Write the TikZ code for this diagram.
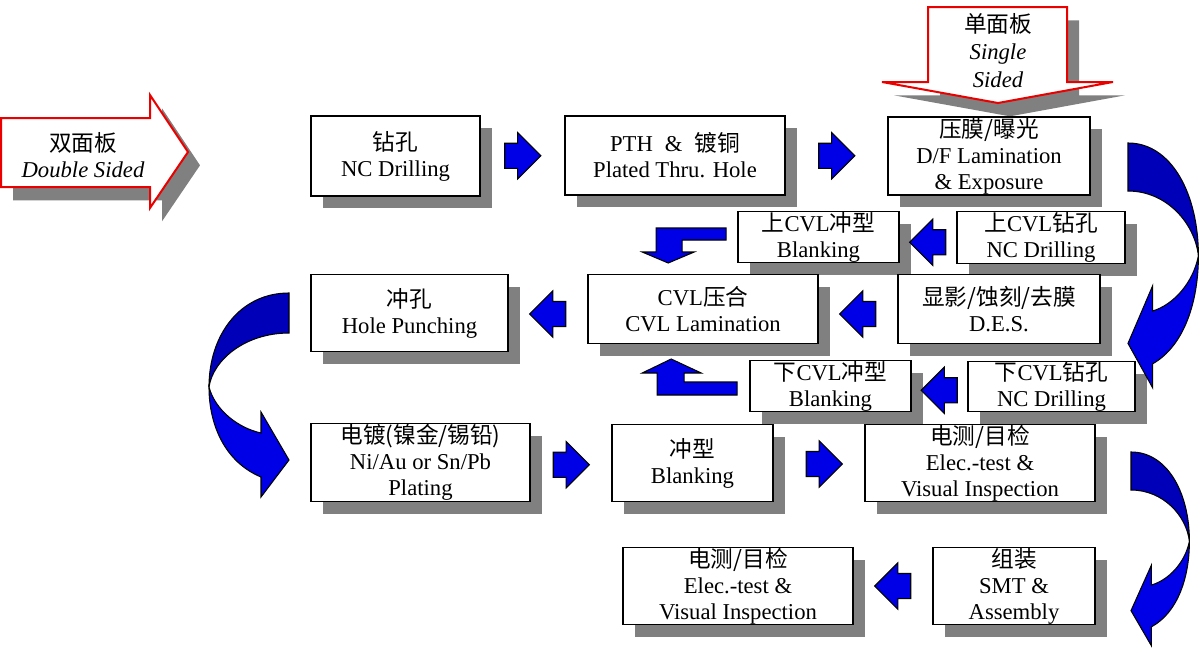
\documentclass[tikz,border=0pt]{standalone}
\usepackage{fontspec}
\setmainfont{Liberation Serif}
\newfontfamily\cjk{Noto Sans CJK SC}
\newcommand\zh[1]{{\cjk #1}}
\usetikzlibrary{shapes.arrows,shadows,calc}

\definecolor{arrowblue}{RGB}{0,0,230}
\definecolor{bandblue}{RGB}{0,0,185}
\definecolor{shadowgray}{RGB}{128,128,128}
\definecolor{outlinered}{RGB}{235,0,0}

% curved ribbon arrow, drawn in its own scope
\newcommand\flowcurve{%
  \draw[fill=bandblue, line width=0.8pt] (0,0) .. controls (-49,0) and (-80,42) .. (-80,94)
    .. controls (-76,67) and (-44,40) .. (0,40) -- cycle;
  \draw[fill=arrowblue, line width=0.8pt, line join=miter] (-80,94) .. controls (-80,132) and (-64,169) .. (-28,184)
    -- (-28,204) -- (0,167) -- (-28,119) -- (-28,140)
    .. controls (-51,135) and (-74,117) .. (-80,94) -- cycle;}

\tikzset{every picture/.style={line width=0.75pt}}
\tikzset{
  procbox/.style={draw, fill=white, line width=1.2pt, align=center, inner sep=0pt,
    font=\fontsize{17}{19.5}\selectfont,
    drop shadow={shadow xshift=9pt, shadow yshift=-9pt, fill=shadowgray, opacity=1}},
  boxsize/.style 2 args={minimum width=#1*0.75pt, minimum height=#2*0.75pt},
  blockhead/.style={single arrow, draw, fill=arrowblue, line width=0.8pt, inner xsep=0pt, inner ysep=9pt,
    minimum height=27pt, single arrow head extend=8pt},
  rarrow/.style={blockhead, xshift=-4.5pt},
  larrow/.style={blockhead, shape border rotate=180, xshift=4.5pt},
  blockarrow/.style={draw, fill=arrowblue, line width=0.8pt, line join=miter},
  bigarrow/.style={draw=outlinered, fill=white, line width=1.5pt,
    drop shadow={shadow xshift=9pt, shadow yshift=-10pt, fill=shadowgray, opacity=1}},
  biglabel/.style={align=center, inner sep=0pt, font=\fontsize{17}{19.5}\selectfont}
}

\begin{document}
\begin{tikzpicture}[x=0.75pt,y=0.75pt,yscale=-1,xscale=1]
	\useasboundingbox (0,0) rectangle (1200,653);
	
	%Shape: Double Sided arrow
	\draw[bigarrow] (1,118) -- (150,118) -- (150,95) -- (188,152) -- (150,208) -- (150,187) -- (1,187) -- cycle;
	%Shape: Single Sided arrow
	\draw[bigarrow] (928,7) -- (1067,7) -- (1067,82) -- (1113,82) -- (998,103) -- (882,82) -- (928,82) -- cycle;
	% Text Node
	\node[biglabel] (dside) at (83,155.5) {\zh{双面板}\\\textit{Double Sided}};
	% Text Node
	\node[biglabel] (sside) at (998,50.5) {\zh{单面板}\\[1pt]\textit{Single}\\[1pt]\textit{Sided}};
	
	% process boxes
	\node[procbox, boxsize={169}{80}] (drill) at (395.5,156) {\zh{钻孔}\\NC Drilling};
	\node[procbox, boxsize={220}{79}] (pth) at (675,155.5) {PTH\hspace{9pt}\&\hspace{9pt}\zh{镀铜}\\Plated Thru. Hole};
	\node[procbox, boxsize={202}{78}] (dfl) at (989,156) {\zh{压膜/曝光}\\D/F Lamination\\\& Exposure};
	\node[procbox, boxsize={161}{51}] (ublank) at (818.5,237) {\zh{上}CVL\zh{冲型}\\Blanking};
	\node[procbox, boxsize={168}{52}] (udrill) at (1041,237.5) {\zh{上}CVL\zh{钻孔}\\NC Drilling};
	\node[procbox, boxsize={202}{69}] (des) at (999,309) {\zh{显影/蚀刻/去膜}\\D.E.S.};
	\node[procbox, boxsize={230}{69}] (cvl) at (703,309) {CVL\zh{压合}\\CVL Lamination};
	\node[procbox, boxsize={197}{77}] (punch) at (409.5,313) {\zh{冲孔}\\Hole Punching};
	\node[procbox, boxsize={161}{51}] (lblank) at (830.5,386) {\zh{下}CVL\zh{冲型}\\Blanking};
	\node[procbox, boxsize={167}{50}] (ldrill) at (1051.5,386.5) {\zh{下}CVL\zh{钻孔}\\NC Drilling};
	\node[procbox, boxsize={219}{78}] (plating) at (420.5,462.5) {\zh{电镀(镍金/锡铅)}\\Ni/Au or Sn/Pb\\Plating};
	\node[procbox, boxsize={161}{77}] (blank) at (692.5,463) {\zh{冲型}\\Blanking};
	\node[procbox, boxsize={230}{77}] (etest) at (980,463) {\zh{电测/目检}\\Elec.-test \&\\Visual Inspection};
	\node[procbox, boxsize={162}{77}] (smt) at (1014,586) {\zh{组装}\\SMT \&\\Assembly};
	\node[procbox, boxsize={230}{77}] (etestb) at (738,586) {\zh{电测/目检}\\Elec.-test \&\\Visual Inspection};
	
	% block arrows
	\node[rarrow] (a1) at ($(drill.east)!.5!(pth.west)$) {};
	\node[rarrow] (a2) at ($(pth.east)!.5!(dfl.west)$) {};
	\node[larrow] (a3) at ($(udrill.west)!.5!(ublank.east)+(0,5)$) {};
	\node[larrow] (a4) at ($(des.west)!.5!(cvl.east)+(0,5)$) {};
	\node[larrow] (a5) at ($(cvl.west)!.5!(punch.east)+(0,3)$) {};
	\node[larrow] (a6) at ($(ldrill.west)!.5!(lblank.east)+(0,4)$) {};
	\node[rarrow] (a7) at ($(plating.east)!.5!(blank.west)+(0,2)$) {};
	\node[rarrow] (a8) at ($(blank.east)!.5!(etest.west)+(5,1)$) {};
	\node[larrow] (a9) at ($(smt.west)!.5!(etestb.east)+(0,0)$) {};
	
	%Shape: bent arrows into CVL lamination
	\draw[blockarrow] ([shift={(-11,-9)}]ublank.west) coordinate (ubtail)
	  -- ++(-70,0) -- ++(0,24) -- ++(-14,0) -- ++(26,11) -- ++(26,-11) -- ++(-12,0) -- ++(0,-12) -- ++(44,0) -- cycle;
	\draw[blockarrow] ([shift={(-12,9)}]lblank.west) coordinate (lbtail)
	  -- ++(0,-13) -- ++(-53,0) -- ++(0,-9) -- ++(17,0) -- ++(-30,-14) -- ++(-29,14) -- ++(15,0) -- ++(0,22) -- cycle;
	
	%Shape: curved arrows
	\begin{scope}[shift={(1128,143)}, xscale=-0.88, yscale=1.2]
	  \flowcurve
	\end{scope}
	\begin{scope}[shift={(289,293)}]
	  \flowcurve
	\end{scope}
	\begin{scope}[shift={(1131,452)}, xscale=-0.73, yscale=0.95]
	  \flowcurve
	\end{scope}
	
\end{tikzpicture}
\end{document}
